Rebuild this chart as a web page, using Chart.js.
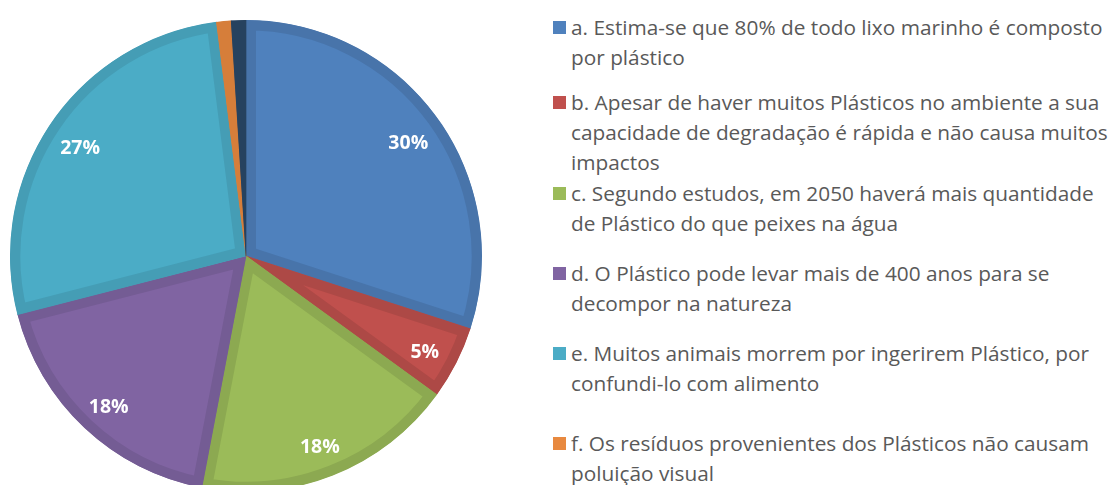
<!DOCTYPE html>
<html>
<head>
<meta charset="utf-8">
<script src="https://cdn.jsdelivr.net/npm/chart.js@4"></script>
<style>
  html, body { margin: 0; padding: 0; background: #fff; overflow: hidden; }
  body { width: 1111px; height: 485px; position: relative; }
  #pieBox { position: absolute; left: 10px; top: 20px; width: 472px; height: 472px; }
  .item { position: absolute; left: 553px; font-family: "Open Sans", "Noto Sans", sans-serif; font-size: 20.8px; color: #595959; line-height: 30px; white-space: nowrap; }
  .item .box { position: absolute; left: 0; top: 9px; width: 13px; height: 13px; }
  .item .txt { margin-left: 18px; }
</style>
</head>
<body>
<div id="pieBox"><canvas id="pie"></canvas></div>
<div id="legend"></div>
<script>
// respostas
const labels = [
  ['a. Estima-se que 80% de todo lixo marinho é composto', 'por plástico'],
  ['b. Apesar de haver muitos Plásticos no ambiente a sua', 'capacidade de degradação é rápida e não causa muitos', 'impactos'],
  ['c. Segundo estudos, em 2050 haverá mais quantidade', 'de Plástico do que peixes na água'],
  ['d. O Plástico pode levar mais de 400 anos para se', 'decompor na natureza'],
  ['e. Muitos animais morrem por ingerirem Plástico, por', 'confundi-lo com alimento'],
  ['f. Os resíduos provenientes dos Plásticos não causam', 'poluição visual'],
  ['g.']
];
const valores = [30, 5, 18, 18, 27, 1, 1];
const cores = ['#4F81BD', '#C0504D', '#9BBB59', '#8064A2', '#4BACC6', '#E8893F', '#2B4A70'];
const bordas = ['#4874AA', '#AD4946', '#8CA951', '#745C94', '#459DB5', '#D67E3A', '#26425F'];
const legendTops = [12, 87, 178, 258, 338, 428];

// legenda
const legend = document.getElementById('legend');
for (let i = 0; i < legendTops.length; i++) {
  const d = document.createElement('div');
  d.className = 'item';
  d.style.top = legendTops[i] + 'px';
  d.innerHTML = '<span class="box" style="background:' + cores[i] + '"></span><div class="txt">' + labels[i].join('<br>') + '</div>';
  legend.appendChild(d);
}

// rótulos de porcentagem
const pctLabels = {
  id: 'pctLabels',
  afterDatasetsDraw(chart) {
    const ctx = chart.ctx;
    const meta = chart.getDatasetMeta(0);
    ctx.save();
    ctx.font = 'bold 19.5px "Open Sans", sans-serif';
    ctx.fillStyle = '#fff';
    ctx.textAlign = 'center';
    ctx.textBaseline = 'middle';
    meta.data.forEach((arc, i) => {
      const v = valores[i];
      if (v < 3) return;
      const a = (arc.startAngle + arc.endAngle) / 2;
      const r = arc.outerRadius * 0.85;
      ctx.fillText(v + '%', arc.x + Math.cos(a) * r, arc.y + Math.sin(a) * r + 5);
    });
    ctx.restore();
  }
};

new Chart(document.getElementById('pie'), {
  type: 'pie',
  data: {
    labels: labels,
    datasets: [{
      data: valores,
      backgroundColor: cores,
      borderColor: bordas,
      borderWidth: 10,
      borderAlign: 'inner'
    }]
  },
  options: {
    responsive: true,
    maintainAspectRatio: false,
    animation: false,
    events: [],
    layout: { padding: 0 },
    plugins: {
      legend: { display: false },
      tooltip: { enabled: false }
    }
  },
  plugins: [pctLabels]
});
</script>
</body>
</html>
